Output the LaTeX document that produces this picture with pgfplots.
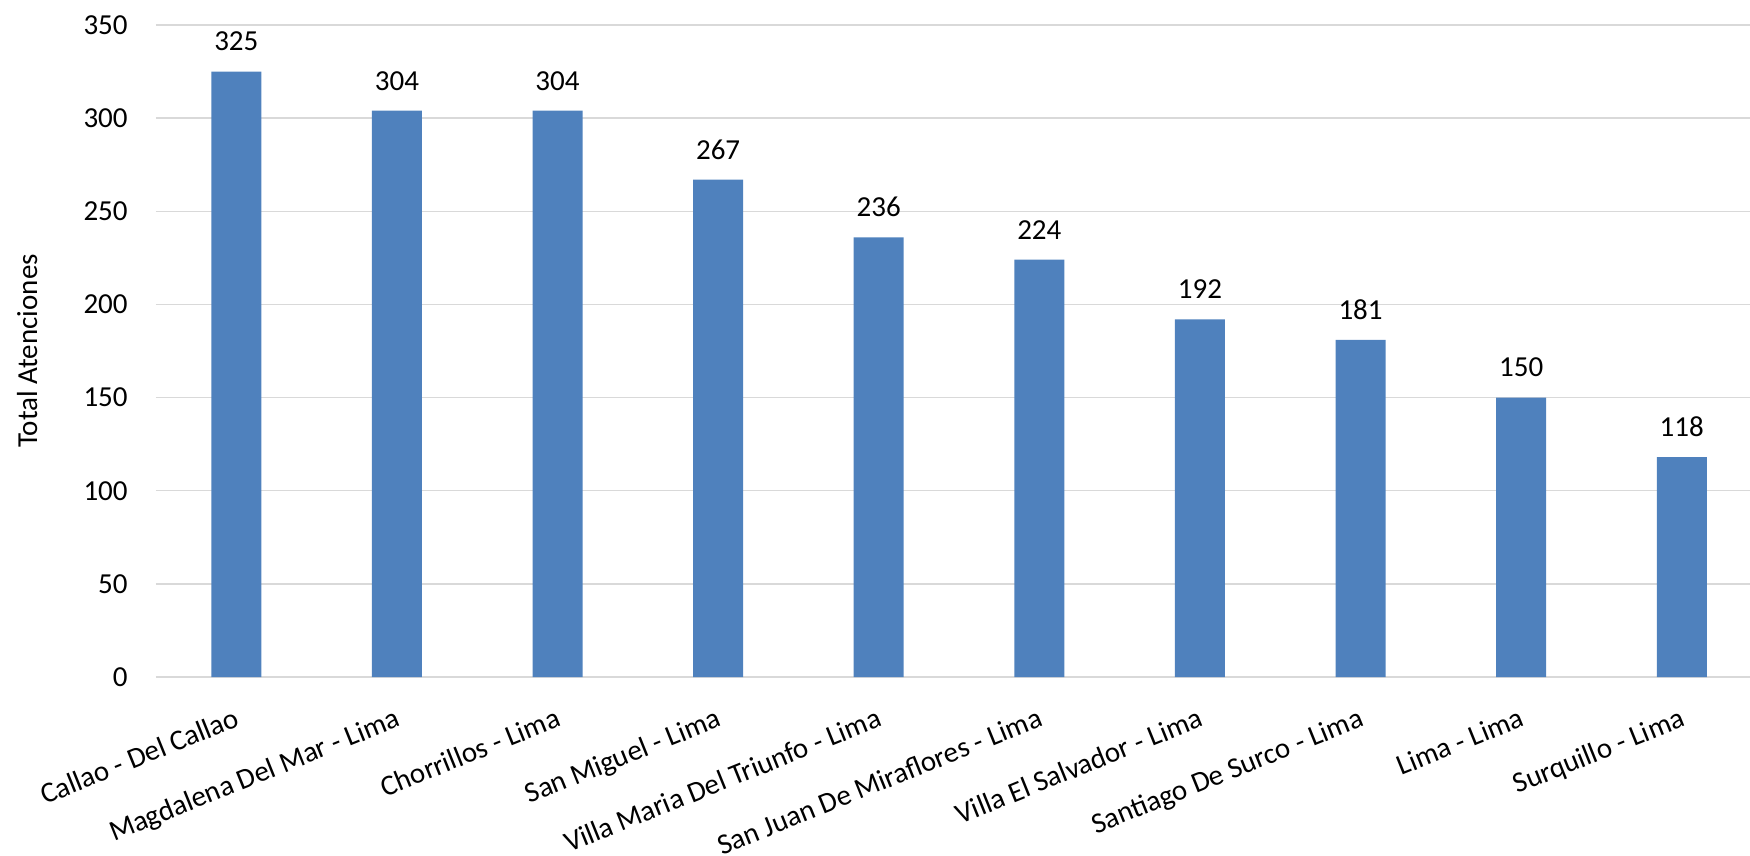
\documentclass[border=0pt]{standalone}
\usepackage{fontspec}
\setmainfont{Carlito}
\usepackage{pgfplots}
\pgfplotsset{compat=1.18}
\definecolor{barblue}{HTML}{4F81BD}
\definecolor{gridgray}{HTML}{D9D9D9}
\newcommand{\chartfont}{\fontsize{14.5}{17}\selectfont}
\begin{document}
\begin{tikzpicture}
\useasboundingbox (-78pt,-89.5pt) rectangle (797pt,338.5pt);
\begin{axis}[
  at={(0pt,0pt)}, anchor=south west,
  scale only axis, width=797pt, height=326pt,
  xmin=-0.5, xmax=9.425, ymin=0, ymax=350,
  ytick={0,50,...,350},
  xtick={0,...,9},
  xticklabels={Callao - Del Callao, Magdalena Del Mar - Lima, Chorrillos - Lima, San Miguel - Lima, Villa Maria Del Triunfo - Lima, San Juan De Miraflores - Lima, Villa El Salvador - Lima, Santiago De Surco - Lima, Lima - Lima, Surquillo - Lima},
  axis line style={draw=none},
  major tick length=0pt,
  ymajorgrids,
  major grid style={gridgray, line width=0.75pt},
  /pgf/number format/assume math mode=true,
  yticklabel style={font=\chartfont, anchor=east, inner sep=0pt, xshift=-14pt},
  xticklabel shift=14.75pt,
  xticklabel style={font=\chartfont, xshift=-1.3pt, rotate=22, anchor=north east, inner sep=0pt},
  ylabel={Total Atenciones},
  ylabel style={font=\chartfont, at={(axis description cs:-0.0809,0.5)}, anchor=center},
  ybar, bar width=25pt,
  nodes near coords,
  every node near coord/.append style={font=\chartfont, anchor=south, inner sep=0pt, yshift=10pt, color=black},
]
\addplot[fill=barblue, draw=none] coordinates {
 (0,325) (1,304) (2,304) (3,267) (4,236) (5,224) (6,192) (7,181) (8,150) (9,118)
};
\end{axis}
\end{tikzpicture}
\end{document}
